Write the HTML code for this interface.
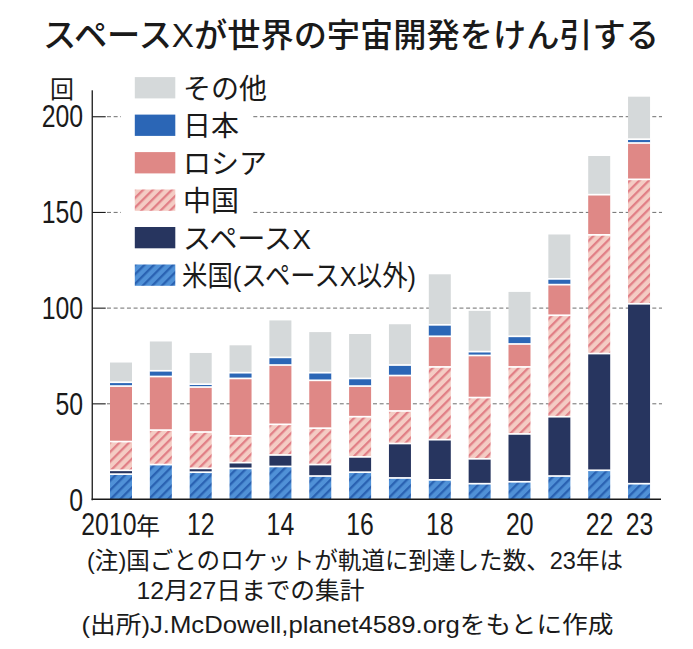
<!DOCTYPE html>
<html lang="ja"><head><meta charset="utf-8"><title>スペースXが世界の宇宙開発をけん引する</title>
<style>
html,body{margin:0;padding:0;background:#fff;}
body{width:693px;height:649px;overflow:hidden;position:relative;font-family:"Liberation Sans",sans-serif;}
#chart{position:absolute;left:0;top:0;width:693px;height:649px;}
#chart svg{display:block;}
#chart svg text{font-family:"Liberation Sans","Noto Sans CJK JP",sans-serif;fill:#1a1a1a;}
.h{position:absolute;white-space:nowrap;line-height:1;color:transparent;transform-origin:0 0;pointer-events:none;user-select:none;}
</style></head><body>
<div id="chart"><svg width="693" height="649" viewBox="0 0 693 649" role="img" aria-label="スペースXが世界の宇宙開発をけん引する">
<defs>
<pattern id="hc" patternUnits="userSpaceOnUse" width="6.75" height="6.75" patternTransform="rotate(-45) translate(0,4.83)"><rect width="6.75" height="6.75" fill="#f4ccc4"/><rect y="0" width="6.75" height="2.3" fill="#e17f86"/></pattern>
<pattern id="hu" patternUnits="userSpaceOnUse" width="6.75" height="6.75" patternTransform="rotate(-45) translate(0,4.83)"><rect width="6.75" height="6.75" fill="#5091d7"/><rect y="0" width="6.75" height="2.3" fill="#2a62b2"/></pattern>
</defs>
<rect width="693" height="649" fill="#ffffff"/>
<line x1="107" y1="403.8" x2="662" y2="403.8" stroke="#6e6e6e" stroke-width="1" stroke-dasharray="4 2.65"/>
<line x1="107" y1="308.1" x2="662" y2="308.1" stroke="#6e6e6e" stroke-width="1" stroke-dasharray="4 2.65"/>
<line x1="107" y1="212.4" x2="121" y2="212.4" stroke="#6e6e6e" stroke-width="1" stroke-dasharray="4 2.65"/>
<line x1="253.3" y1="212.4" x2="662" y2="212.4" stroke="#6e6e6e" stroke-width="1" stroke-dasharray="4 2.65"/>
<line x1="107" y1="116.7" x2="121" y2="116.7" stroke="#6e6e6e" stroke-width="1" stroke-dasharray="4 2.65"/>
<line x1="253.3" y1="116.7" x2="662" y2="116.7" stroke="#6e6e6e" stroke-width="1" stroke-dasharray="4 2.65"/>
<rect x="110.00" y="474.12" width="22.0" height="24.88" fill="url(#hu)"/>
<rect x="110.00" y="470.29" width="22.0" height="3.83" fill="#27355f"/>
<rect x="110.00" y="441.58" width="22.0" height="28.71" fill="url(#hc)"/>
<rect x="110.00" y="386.07" width="22.0" height="55.51" fill="#df8886"/>
<rect x="110.00" y="382.25" width="22.0" height="3.83" fill="#2b66b6"/>
<rect x="110.00" y="362.53" width="22.0" height="19.71" fill="#d5d9da"/>
<rect x="109.50" y="473.27" width="23.0" height="1.7" fill="#fff"/>
<rect x="109.50" y="469.44" width="23.0" height="1.7" fill="#fff"/>
<rect x="109.50" y="440.73" width="23.0" height="1.7" fill="#fff"/>
<rect x="109.50" y="385.22" width="23.0" height="1.7" fill="#fff"/>
<rect x="109.50" y="381.40" width="23.0" height="1.7" fill="#fff"/>
<rect x="149.85" y="464.55" width="22.0" height="34.45" fill="url(#hu)"/>
<rect x="149.85" y="430.10" width="22.0" height="34.45" fill="url(#hc)"/>
<rect x="149.85" y="376.50" width="22.0" height="53.59" fill="#df8886"/>
<rect x="149.85" y="370.76" width="22.0" height="5.74" fill="#2b66b6"/>
<rect x="149.85" y="341.48" width="22.0" height="29.28" fill="#d5d9da"/>
<rect x="149.35" y="463.70" width="23.0" height="1.7" fill="#fff"/>
<rect x="149.35" y="429.25" width="23.0" height="1.7" fill="#fff"/>
<rect x="149.35" y="375.65" width="23.0" height="1.7" fill="#fff"/>
<rect x="149.35" y="369.91" width="23.0" height="1.7" fill="#fff"/>
<rect x="189.70" y="472.20" width="22.0" height="26.80" fill="url(#hu)"/>
<rect x="189.70" y="468.38" width="22.0" height="3.83" fill="#27355f"/>
<rect x="189.70" y="432.01" width="22.0" height="36.37" fill="url(#hc)"/>
<rect x="189.70" y="387.03" width="22.0" height="44.98" fill="#df8886"/>
<rect x="189.70" y="384.16" width="22.0" height="2.87" fill="#2b66b6"/>
<rect x="189.70" y="352.96" width="22.0" height="31.20" fill="#d5d9da"/>
<rect x="189.20" y="471.35" width="23.0" height="1.7" fill="#fff"/>
<rect x="189.20" y="467.53" width="23.0" height="1.7" fill="#fff"/>
<rect x="189.20" y="431.16" width="23.0" height="1.7" fill="#fff"/>
<rect x="189.20" y="386.18" width="23.0" height="1.7" fill="#fff"/>
<rect x="189.20" y="383.31" width="23.0" height="1.7" fill="#fff"/>
<rect x="229.55" y="468.38" width="22.0" height="30.62" fill="url(#hu)"/>
<rect x="229.55" y="462.63" width="22.0" height="5.74" fill="#27355f"/>
<rect x="229.55" y="435.84" width="22.0" height="26.80" fill="url(#hc)"/>
<rect x="229.55" y="378.42" width="22.0" height="57.42" fill="#df8886"/>
<rect x="229.55" y="372.68" width="22.0" height="5.74" fill="#2b66b6"/>
<rect x="229.55" y="345.31" width="22.0" height="27.37" fill="#d5d9da"/>
<rect x="229.05" y="467.53" width="23.0" height="1.7" fill="#fff"/>
<rect x="229.05" y="461.78" width="23.0" height="1.7" fill="#fff"/>
<rect x="229.05" y="434.99" width="23.0" height="1.7" fill="#fff"/>
<rect x="229.05" y="377.57" width="23.0" height="1.7" fill="#fff"/>
<rect x="229.05" y="371.83" width="23.0" height="1.7" fill="#fff"/>
<rect x="269.40" y="466.46" width="22.0" height="32.54" fill="url(#hu)"/>
<rect x="269.40" y="454.98" width="22.0" height="11.48" fill="#27355f"/>
<rect x="269.40" y="424.35" width="22.0" height="30.62" fill="url(#hc)"/>
<rect x="269.40" y="365.02" width="22.0" height="59.33" fill="#df8886"/>
<rect x="269.40" y="357.36" width="22.0" height="7.66" fill="#2b66b6"/>
<rect x="269.40" y="320.42" width="22.0" height="36.94" fill="#d5d9da"/>
<rect x="268.90" y="465.61" width="23.0" height="1.7" fill="#fff"/>
<rect x="268.90" y="454.13" width="23.0" height="1.7" fill="#fff"/>
<rect x="268.90" y="423.50" width="23.0" height="1.7" fill="#fff"/>
<rect x="268.90" y="364.17" width="23.0" height="1.7" fill="#fff"/>
<rect x="268.90" y="356.51" width="23.0" height="1.7" fill="#fff"/>
<rect x="309.25" y="476.03" width="22.0" height="22.97" fill="url(#hu)"/>
<rect x="309.25" y="464.55" width="22.0" height="11.48" fill="#27355f"/>
<rect x="309.25" y="428.18" width="22.0" height="36.37" fill="url(#hc)"/>
<rect x="309.25" y="380.33" width="22.0" height="47.85" fill="#df8886"/>
<rect x="309.25" y="372.68" width="22.0" height="7.66" fill="#2b66b6"/>
<rect x="309.25" y="332.10" width="22.0" height="40.58" fill="#d5d9da"/>
<rect x="308.75" y="475.18" width="23.0" height="1.7" fill="#fff"/>
<rect x="308.75" y="463.70" width="23.0" height="1.7" fill="#fff"/>
<rect x="308.75" y="427.33" width="23.0" height="1.7" fill="#fff"/>
<rect x="308.75" y="379.48" width="23.0" height="1.7" fill="#fff"/>
<rect x="308.75" y="371.83" width="23.0" height="1.7" fill="#fff"/>
<rect x="349.10" y="472.20" width="22.0" height="26.80" fill="url(#hu)"/>
<rect x="349.10" y="456.89" width="22.0" height="15.31" fill="#27355f"/>
<rect x="349.10" y="416.70" width="22.0" height="40.19" fill="url(#hc)"/>
<rect x="349.10" y="386.07" width="22.0" height="30.62" fill="#df8886"/>
<rect x="349.10" y="378.42" width="22.0" height="7.66" fill="#2b66b6"/>
<rect x="349.10" y="334.01" width="22.0" height="44.40" fill="#d5d9da"/>
<rect x="348.60" y="471.35" width="23.0" height="1.7" fill="#fff"/>
<rect x="348.60" y="456.04" width="23.0" height="1.7" fill="#fff"/>
<rect x="348.60" y="415.85" width="23.0" height="1.7" fill="#fff"/>
<rect x="348.60" y="385.22" width="23.0" height="1.7" fill="#fff"/>
<rect x="348.60" y="377.57" width="23.0" height="1.7" fill="#fff"/>
<rect x="388.95" y="477.95" width="22.0" height="21.05" fill="url(#hu)"/>
<rect x="388.95" y="443.49" width="22.0" height="34.45" fill="#27355f"/>
<rect x="388.95" y="410.96" width="22.0" height="32.54" fill="url(#hc)"/>
<rect x="388.95" y="375.55" width="22.0" height="35.41" fill="#df8886"/>
<rect x="388.95" y="365.02" width="22.0" height="10.53" fill="#2b66b6"/>
<rect x="388.95" y="324.25" width="22.0" height="40.77" fill="#d5d9da"/>
<rect x="388.45" y="477.10" width="23.0" height="1.7" fill="#fff"/>
<rect x="388.45" y="442.64" width="23.0" height="1.7" fill="#fff"/>
<rect x="388.45" y="410.11" width="23.0" height="1.7" fill="#fff"/>
<rect x="388.45" y="374.70" width="23.0" height="1.7" fill="#fff"/>
<rect x="388.45" y="364.17" width="23.0" height="1.7" fill="#fff"/>
<rect x="428.80" y="479.86" width="22.0" height="19.14" fill="url(#hu)"/>
<rect x="428.80" y="439.67" width="22.0" height="40.19" fill="#27355f"/>
<rect x="428.80" y="366.93" width="22.0" height="72.73" fill="url(#hc)"/>
<rect x="428.80" y="336.31" width="22.0" height="30.62" fill="#df8886"/>
<rect x="428.80" y="324.83" width="22.0" height="11.48" fill="#2b66b6"/>
<rect x="428.80" y="274.30" width="22.0" height="50.53" fill="#d5d9da"/>
<rect x="428.30" y="479.01" width="23.0" height="1.7" fill="#fff"/>
<rect x="428.30" y="438.82" width="23.0" height="1.7" fill="#fff"/>
<rect x="428.30" y="366.08" width="23.0" height="1.7" fill="#fff"/>
<rect x="428.30" y="335.46" width="23.0" height="1.7" fill="#fff"/>
<rect x="428.30" y="323.98" width="23.0" height="1.7" fill="#fff"/>
<rect x="468.65" y="483.69" width="22.0" height="15.31" fill="url(#hu)"/>
<rect x="468.65" y="458.81" width="22.0" height="24.88" fill="#27355f"/>
<rect x="468.65" y="397.56" width="22.0" height="61.25" fill="url(#hc)"/>
<rect x="468.65" y="355.45" width="22.0" height="42.11" fill="#df8886"/>
<rect x="468.65" y="351.62" width="22.0" height="3.83" fill="#2b66b6"/>
<rect x="468.65" y="310.85" width="22.0" height="40.77" fill="#d5d9da"/>
<rect x="468.15" y="482.84" width="23.0" height="1.7" fill="#fff"/>
<rect x="468.15" y="457.96" width="23.0" height="1.7" fill="#fff"/>
<rect x="468.15" y="396.71" width="23.0" height="1.7" fill="#fff"/>
<rect x="468.15" y="354.60" width="23.0" height="1.7" fill="#fff"/>
<rect x="468.15" y="350.77" width="23.0" height="1.7" fill="#fff"/>
<rect x="508.50" y="481.77" width="22.0" height="17.23" fill="url(#hu)"/>
<rect x="508.50" y="433.92" width="22.0" height="47.85" fill="#27355f"/>
<rect x="508.50" y="366.93" width="22.0" height="66.99" fill="url(#hc)"/>
<rect x="508.50" y="343.97" width="22.0" height="22.97" fill="#df8886"/>
<rect x="508.50" y="336.31" width="22.0" height="7.66" fill="#2b66b6"/>
<rect x="508.50" y="291.91" width="22.0" height="44.40" fill="#d5d9da"/>
<rect x="508.00" y="480.92" width="23.0" height="1.7" fill="#fff"/>
<rect x="508.00" y="433.07" width="23.0" height="1.7" fill="#fff"/>
<rect x="508.00" y="366.08" width="23.0" height="1.7" fill="#fff"/>
<rect x="508.00" y="343.12" width="23.0" height="1.7" fill="#fff"/>
<rect x="508.00" y="335.46" width="23.0" height="1.7" fill="#fff"/>
<rect x="548.35" y="476.03" width="22.0" height="22.97" fill="url(#hu)"/>
<rect x="548.35" y="416.70" width="22.0" height="59.33" fill="#27355f"/>
<rect x="548.35" y="315.26" width="22.0" height="101.44" fill="url(#hc)"/>
<rect x="548.35" y="284.63" width="22.0" height="30.62" fill="#df8886"/>
<rect x="548.35" y="278.89" width="22.0" height="5.74" fill="#2b66b6"/>
<rect x="548.35" y="234.49" width="22.0" height="44.40" fill="#d5d9da"/>
<rect x="547.85" y="475.18" width="23.0" height="1.7" fill="#fff"/>
<rect x="547.85" y="415.85" width="23.0" height="1.7" fill="#fff"/>
<rect x="547.85" y="314.41" width="23.0" height="1.7" fill="#fff"/>
<rect x="547.85" y="283.78" width="23.0" height="1.7" fill="#fff"/>
<rect x="547.85" y="278.04" width="23.0" height="1.7" fill="#fff"/>
<rect x="588.20" y="470.29" width="22.0" height="28.71" fill="url(#hu)"/>
<rect x="588.20" y="353.54" width="22.0" height="116.75" fill="#27355f"/>
<rect x="588.20" y="234.87" width="22.0" height="118.67" fill="url(#hc)"/>
<rect x="588.20" y="194.67" width="22.0" height="40.19" fill="#df8886"/>
<rect x="588.20" y="156.01" width="22.0" height="38.66" fill="#d5d9da"/>
<rect x="587.70" y="469.44" width="23.0" height="1.7" fill="#fff"/>
<rect x="587.70" y="352.69" width="23.0" height="1.7" fill="#fff"/>
<rect x="587.70" y="234.02" width="23.0" height="1.7" fill="#fff"/>
<rect x="587.70" y="193.82" width="23.0" height="1.7" fill="#fff"/>
<rect x="628.05" y="483.69" width="22.0" height="15.31" fill="url(#hu)"/>
<rect x="628.05" y="303.77" width="22.0" height="179.92" fill="#27355f"/>
<rect x="628.05" y="179.36" width="22.0" height="124.41" fill="url(#hc)"/>
<rect x="628.05" y="143.00" width="22.0" height="36.37" fill="#df8886"/>
<rect x="628.05" y="139.17" width="22.0" height="3.83" fill="#2b66b6"/>
<rect x="628.05" y="96.68" width="22.0" height="42.49" fill="#d5d9da"/>
<rect x="627.55" y="482.84" width="23.0" height="1.7" fill="#fff"/>
<rect x="627.55" y="302.92" width="23.0" height="1.7" fill="#fff"/>
<rect x="627.55" y="178.51" width="23.0" height="1.7" fill="#fff"/>
<rect x="627.55" y="142.15" width="23.0" height="1.7" fill="#fff"/>
<rect x="627.55" y="138.32" width="23.0" height="1.7" fill="#fff"/>
<rect x="91.6" y="90.3" width="1.3" height="410.0" fill="#1a1a1a"/>
<rect x="91.6" y="498.5" width="569.4" height="1.5" fill="#1a1a1a"/>
<rect x="92.2" y="403.3" width="13.5" height="1.1" fill="#1a1a1a"/>
<rect x="92.2" y="307.6" width="13.5" height="1.1" fill="#1a1a1a"/>
<rect x="92.2" y="211.9" width="13.5" height="1.1" fill="#1a1a1a"/>
<rect x="92.2" y="116.2" width="13.5" height="1.1" fill="#1a1a1a"/>
<rect x="134.8" y="77.1" width="40.5" height="21.3" fill="#d5d9da"/>
<rect x="134.8" y="114.6" width="40.5" height="21.3" fill="#2b66b6"/>
<rect x="134.8" y="152.1" width="40.5" height="21.3" fill="#df8886"/>
<rect x="134.8" y="189.5" width="40.5" height="21.3" fill="url(#hc)"/>
<rect x="134.8" y="227.0" width="40.5" height="21.3" fill="#27355f"/>
<rect x="134.8" y="264.5" width="40.5" height="21.3" fill="url(#hu)"/>
<text x="43" y="46.5" font-size="33" font-weight="500" textLength="616" lengthAdjust="spacingAndGlyphs">スペースXが世界の宇宙開発をけん引する</text>
<text x="183" y="98.5" font-size="28">その他</text>
<text x="183" y="136" font-size="28">日本</text>
<text x="183" y="173.5" font-size="28">ロシア</text>
<text x="183" y="211" font-size="28">中国</text>
<text x="183" y="249" font-size="28" textLength="128" lengthAdjust="spacingAndGlyphs">スペースX</text>
<text x="182" y="286.4" font-size="28" textLength="234" lengthAdjust="spacingAndGlyphs">米国(スペースX以外)</text>
<text x="50" y="97.5" font-size="24">回</text>
<text transform="translate(83,510.5) scale(0.8,1)" text-anchor="end" font-size="31">0</text>
<text transform="translate(83,414.8) scale(0.8,1)" text-anchor="end" font-size="31">50</text>
<text transform="translate(83,318.8) scale(0.8,1)" text-anchor="end" font-size="31">100</text>
<text transform="translate(83,223.1) scale(0.8,1)" text-anchor="end" font-size="31">150</text>
<text transform="translate(83,127.4) scale(0.8,1)" text-anchor="end" font-size="31">200</text>
<text transform="translate(81.3,535.3) scale(0.8,1)" font-size="31">2010</text>
<text x="136" y="535" font-size="24">年</text>
<text transform="translate(200.7,535.3) scale(0.8,1)" text-anchor="middle" font-size="31">12</text>
<text transform="translate(280.4,535.3) scale(0.8,1)" text-anchor="middle" font-size="31">14</text>
<text transform="translate(360.1,535.3) scale(0.8,1)" text-anchor="middle" font-size="31">16</text>
<text transform="translate(439.8,535.3) scale(0.8,1)" text-anchor="middle" font-size="31">18</text>
<text transform="translate(519.8,535.3) scale(0.8,1)" text-anchor="middle" font-size="31">20</text>
<text transform="translate(599.5,535.3) scale(0.8,1)" text-anchor="middle" font-size="31">22</text>
<text transform="translate(639.5,535.3) scale(0.8,1)" text-anchor="middle" font-size="31">23</text>
<text x="87" y="569" font-size="24" textLength="536" lengthAdjust="spacingAndGlyphs">(注)国ごとのロケットが軌道に到達した数、23年は</text>
<text x="136.5" y="598.8" font-size="24" textLength="228" lengthAdjust="spacingAndGlyphs">12月27日までの集計</text>
<text x="81.5" y="633.4" font-size="24" textLength="532" lengthAdjust="spacingAndGlyphs">(出所)J.McDowell,planet4589.orgをもとに作成</text>
</svg></div>
<div id="labels">
<span class="h" style="left:42px;top:18px;font-size:33.2px;transform:scaleX(1)">スペースXが世界の宇宙開発をけん引する</span>
<span class="h" style="left:181px;top:74px;font-size:28px;transform:scaleX(1)">その他</span>
<span class="h" style="left:181px;top:111px;font-size:28px;transform:scaleX(1)">日本</span>
<span class="h" style="left:181px;top:149px;font-size:28px;transform:scaleX(1)">ロシア</span>
<span class="h" style="left:181px;top:186px;font-size:28px;transform:scaleX(1)">中国</span>
<span class="h" style="left:181px;top:224px;font-size:28px;transform:scaleX(1)">スペースX</span>
<span class="h" style="left:181px;top:261px;font-size:28px;transform:scaleX(1)">米国(スペースX以外)</span>
<span class="h" style="left:50px;top:76px;font-size:24px;transform:scaleX(1)">回</span>
<span class="h" style="left:40px;top:488px;font-size:30px;transform:scaleX(0.78)">0</span>
<span class="h" style="left:40px;top:392px;font-size:30px;transform:scaleX(0.78)">50</span>
<span class="h" style="left:40px;top:297px;font-size:30px;transform:scaleX(0.78)">100</span>
<span class="h" style="left:40px;top:201px;font-size:30px;transform:scaleX(0.78)">150</span>
<span class="h" style="left:40px;top:105px;font-size:30px;transform:scaleX(0.78)">200</span>
<span class="h" style="left:81px;top:512px;font-size:30px;transform:scaleX(0.78)">2010年</span>
<span class="h" style="left:188px;top:512px;font-size:30px;transform:scaleX(0.78)">12</span>
<span class="h" style="left:267px;top:512px;font-size:30px;transform:scaleX(0.78)">14</span>
<span class="h" style="left:347px;top:512px;font-size:30px;transform:scaleX(0.78)">16</span>
<span class="h" style="left:427px;top:512px;font-size:30px;transform:scaleX(0.78)">18</span>
<span class="h" style="left:506px;top:512px;font-size:30px;transform:scaleX(0.78)">20</span>
<span class="h" style="left:586px;top:512px;font-size:30px;transform:scaleX(0.78)">22</span>
<span class="h" style="left:626px;top:512px;font-size:30px;transform:scaleX(0.78)">23</span>
<span class="h" style="left:86px;top:546px;font-size:25px;transform:scaleX(0.95)">(注)国ごとのロケットが軌道に到達した数、23年は</span>
<span class="h" style="left:135px;top:576px;font-size:25px;transform:scaleX(0.95)">12月27日までの集計</span>
<span class="h" style="left:80px;top:610px;font-size:25px;transform:scaleX(0.95)">(出所)J.McDowell,planet4589.orgをもとに作成</span>
</div>
</body></html>
